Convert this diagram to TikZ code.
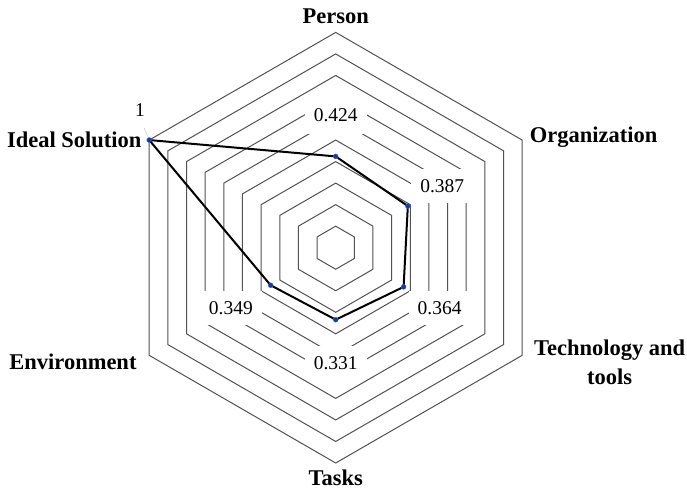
\documentclass[tikz,border=0pt]{standalone}
\usepackage{fontspec}
\setmainfont{Liberation Serif}
\begin{document}
\begin{tikzpicture}[x=1pt,y=1pt,
  ring/.style={draw=black!68,line width=1pt},
  valbox/.style={fill=white,inner sep=0pt,minimum width=62pt,minimum height=34pt,
    font=\fontsize{19.5}{22}\selectfont},
  axislabel/.style={inner sep=0pt,font=\fontsize{22.5}{29}\selectfont\bfseries},
  series/.style={draw=black,line width=2pt,line join=round},
  dot/.style={circle,fill=blue!70!cyan!80!black,draw=black!60,line width=0.3pt,
    inner sep=0pt,minimum size=5pt}]
\useasboundingbox (-335.7,-243.3) rectangle (351.3,247.7);
\coordinate (O) at (0,0);

% concentric hexagonal grid, ten steps
\foreach \k in {1,...,10}{
  \draw[ring] (90:\k*21.53) -- (30:\k*21.53) -- (-30:\k*21.53) -- (-90:\k*21.53)
    -- (210:\k*21.53) -- (150:\k*21.53) -- cycle;
}
% faint tick at the scale value
\draw[black!20,line width=0.6pt] (150:215.3) -- ++(113:13);

% value labels, masking the grid behind them
\node[valbox,minimum height=38pt] (v1) at (90:133) {0.424};
\node[valbox] (v2) at (30:123) {0.387};
\node[valbox] (v3) at (-30:120) {0.364};
\node[valbox] (v4) at (-90:115) {0.331};
\node[valbox] (v5) at (210:121) {0.349};

% data points
\coordinate (d0) at (150:215.3);
\coordinate (d1) at (90:91.3);
\coordinate (d2) at (30:83.3);
\coordinate (d3) at (-30:78.4);
\coordinate (d4) at (-90:72);
\coordinate (d5) at (210:75.1);
\draw[series] (d0) -- (d1) -- (d2) -- (d3) -- (d4) -- (d5) -- cycle;
\foreach \p in {d0,d1,d2,d3,d4,d5}{
  \node[dot] at (\p) {};
}

% axis names
\node[axislabel] (person) at (0,231) {Person};
\node[axislabel,anchor=west] (org) at (194,111) {Organization};
\node[axislabel,align=center] (tech) at (274,-115) {Technology and\\tools};
\node[axislabel] (tasks) at (0,-230) {Tasks};
\node[axislabel,anchor=east] (env) at (-199,-114) {Environment};
\node[axislabel,anchor=east] (ideal) at (-194,108) {Ideal Solution};
\node[inner sep=0pt,font=\fontsize{19.5}{22}\selectfont] (one) at (-195.7,137.7) {1};
\end{tikzpicture}
\end{document}
